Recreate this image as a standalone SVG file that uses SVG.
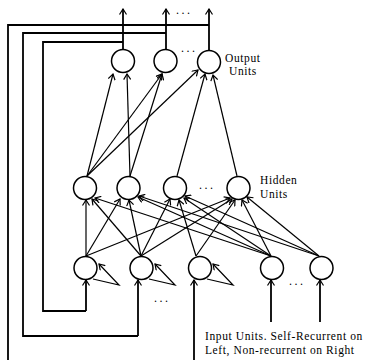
<svg xmlns="http://www.w3.org/2000/svg" width="366" height="360" viewBox="0 0 366 360">
<defs>
<marker id="ah" viewBox="-6 -4 7 8" refX="0" refY="0" markerWidth="7" markerHeight="8" markerUnits="userSpaceOnUse" orient="auto">
<path d="M-5.5,-3.5 L0,0 L-5.5,3.5" fill="none" stroke="#000" stroke-width="1.2"/>
</marker>
</defs>
<style>
.n{fill:#fff;stroke:#000;stroke-width:1.5}
.c{fill:none;stroke:#000;stroke-width:1.2;marker-end:url(#ah)}
.f{fill:none;stroke:#000;stroke-width:1.8}
.fa{fill:none;stroke:#000;stroke-width:1.8;marker-end:url(#ah)}
.t{font-family:"Liberation Serif",serif;font-size:11.5px;letter-spacing:0.6px;fill:#000}
.d{font-family:"Liberation Serif",serif;font-size:12px;fill:#000;letter-spacing:2.5px}
</style>
<rect width="366" height="360" fill="#fff"/>
<g id="connectors">
<path class="fa" d="M123,50 V9"/>
<path class="fa" d="M166,50 V9"/>
<path class="fa" d="M209,52 V9"/>
<path class="f" d="M123,42 H43 V311 H86"/>
<path class="fa" d="M86,311 V280"/>
<path class="f" d="M166,33 H23 V336 H138"/>
<path class="fa" d="M138,336 V280"/>
<path class="f" d="M209,25 H8 V360"/>
<path class="fa" d="M194,360 V280"/>
<path class="fa" d="M271,322 V280"/>
<path class="fa" d="M320,322 V280"/>
<path class="c" d="M87,176 L113,74"/>
<path class="c" d="M130,176 L127,74"/>
<path class="c" d="M87,176 L162,74"/>
<path class="c" d="M130,176 L162,74"/>
<path class="c" d="M87,176 L198,70"/>
<path class="c" d="M177,176 L205,74"/>
<path class="c" d="M237,176 L213,75"/>
<path class="c" d="M86,256 V200"/>
<path class="c" d="M141,256 L92,199"/>
<path class="c" d="M271,256 L95,198"/>
<path class="c" d="M86,256 L120,199"/>
<path class="c" d="M141,256 L129,200"/>
<path class="c" d="M271,256 L138,197"/>
<path class="c" d="M319,256 L139,196"/>
<path class="c" d="M141,256 L170,199"/>
<path class="c" d="M196,256 L179,200"/>
<path class="c" d="M271,256 L184,198"/>
<path class="c" d="M319,256 L185,196"/>
<path class="c" d="M86,256 L230,198"/>
<path class="c" d="M141,256 L232,199"/>
<path class="c" d="M196,256 L235,200"/>
<path class="c" d="M271,256 L242,200"/>
<path class="c" d="M319,256 L247,197"/>
<path class="c" d="M93,279 L119,285 L99,264"/>
<path class="c" d="M149,279 L175,285 L155,264"/>
<path class="c" d="M207,279 L233,285 L213,264"/>
</g>
<g id="out1"><circle class="n" cx="123" cy="61" r="11.5"/></g>
<g id="out2"><circle class="n" cx="165.5" cy="61" r="11.5"/></g>
<g id="out3"><circle class="n" cx="209" cy="62" r="11.5"/></g>
<g id="hid1"><circle class="n" cx="85" cy="188" r="11.5"/></g>
<g id="hid2"><circle class="n" cx="128.5" cy="188" r="11.5"/></g>
<g id="hid3"><circle class="n" cx="175" cy="188" r="11.5"/></g>
<g id="hid4"><circle class="n" cx="238.5" cy="188" r="11.5"/></g>
<g id="in1"><circle class="n" cx="85.5" cy="268" r="11.5"/></g>
<g id="in2"><circle class="n" cx="141.5" cy="268" r="11.5"/></g>
<g id="in3"><circle class="n" cx="200" cy="268" r="11.5"/></g>
<g id="in4"><circle class="n" cx="272" cy="268" r="11.5"/></g>
<g id="in5"><circle class="n" cx="321.5" cy="268" r="11.5"/></g>
<g id="labels">
<text class="d" x="176" y="14">...</text>
<text class="d" x="181" y="52">...</text>
<text class="d" x="199" y="189">...</text>
<text class="d" x="154" y="302">...</text>
<text class="d" x="289" y="285">...</text>
<text class="t" x="225" y="62">Output</text>
<text class="t" x="229" y="75">Units</text>
<text class="t" x="260" y="184">Hidden</text>
<text class="t" x="260" y="198">Units</text>
<text class="t" x="205" y="340">Input Units. Self-Recurrent on</text>
<text class="t" x="205" y="353.5">Left, Non-recurrent on Right</text>
</g>
</svg>
